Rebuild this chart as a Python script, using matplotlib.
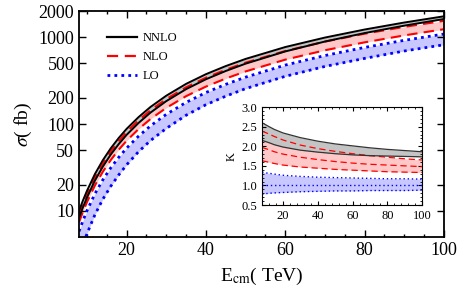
# cross section vs collider energy, with K-factor inset

import matplotlib.pyplot as plt
from matplotlib.ticker import MultipleLocator, FixedLocator, NullLocator

plt.rcParams['font.family'] = ['Liberation Serif', 'DejaVu Serif']
plt.rcParams['mathtext.fontset'] = 'stix'

# energies (TeV) for the main panel
ecm = [8, 9, 10, 12, 14, 16, 18, 20, 23, 26, 30, 35, 40, 45, 50, 60, 70, 80, 90, 100]

# main panel, sigma in fb (upper / lower edges of scale bands)
nnlo_up = [10.0, 13.2, 17.0, 26.5, 38.3, 52.5, 69, 88, 120, 157, 212, 290, 375, 465, 562,
           770, 990, 1225, 1475, 1740]
nnlo_lo = [8.30, 11.0, 14.2, 22.3, 32.3, 44.5, 58.7, 75.1, 102.8, 135.2, 183.6, 252.3, 327.8,
           408.3, 495.7, 685.3, 891, 1114.8, 1357, 1618]
nlo_up = [9.15, 12.1, 15.6, 24.4, 35.2, 48.3, 63.5, 81.0, 110.2, 143.8, 193.8, 264.5, 341.3,
          422.2, 508.6, 693, 889, 1096, 1314, 1543]
nlo_lo = [7.40, 9.77, 12.6, 19.6, 28.2, 38.5, 50.5, 64.2, 87.4, 114.0, 153.5, 209.4, 270,
          334.3, 403.5, 551.3, 706.9, 872.2, 1048.7, 1235.4]
lo_up = [5.80, 7.72, 10.03, 15.7, 22.75, 31.3, 41.3, 52.8, 72.4, 95.1, 129.3, 177.5, 230.6,
         286.4, 346.8, 477.4, 614.8, 762, 920, 1087.5]
lo_lo = [3.0, 4.09, 5.44, 9.01, 13.6, 19.2, 25.9, 33.9, 48.0, 64.4, 89.0, 126.2, 166.9,
         209.3, 255.7, 354.2, 460.4, 569.6, 693.3, 817.8]

# inset, K factors relative to central LO
ecm_k = [8, 10, 12, 15, 20, 30, 40, 50, 60, 70, 80, 90, 100]
k_nnlo_up = [2.60, 2.55, 2.50, 2.43, 2.34, 2.22, 2.13, 2.06, 2.01, 1.96, 1.92, 1.89, 1.86]
k_nnlo_lo = [2.15, 2.12, 2.09, 2.04, 1.98, 1.90, 1.85, 1.81, 1.78, 1.76, 1.75, 1.74, 1.73]
k_nlo_up = [2.38, 2.35, 2.31, 2.25, 2.16, 2.03, 1.94, 1.87, 1.81, 1.76, 1.72, 1.68, 1.65]
k_nlo_c = [1.97, 1.94, 1.91, 1.86, 1.80, 1.72, 1.66, 1.61, 1.57, 1.54, 1.52, 1.50, 1.48]
k_nlo_lo = [1.63, 1.61, 1.59, 1.56, 1.52, 1.47, 1.44, 1.41, 1.39, 1.37, 1.35, 1.34, 1.33]
k_lo_up = [1.34, 1.32, 1.31, 1.29, 1.26, 1.23, 1.21, 1.20, 1.19, 1.18, 1.17, 1.17, 1.16]
k_lo_c = [1.0] * len(ecm_k)
k_lo_lo = [0.78, 0.79, 0.80, 0.81, 0.82, 0.84, 0.85, 0.86, 0.86, 0.87, 0.87, 0.87, 0.88]

grey = '#c4c4c4'
pink = '#ffc8c8'
lblue = '#c8c8ff'
dash = (0, (5, 3))
dot = (0, (1, 1.5))

fig = plt.figure(figsize=(4.74, 2.95), dpi=100)
ax = fig.add_axes([0.1667, 0.1966, 0.770, 0.766])

ax.fill_between(ecm, lo_lo, lo_up, color=lblue, lw=0)
ax.fill_between(ecm, nlo_lo, nlo_up, color=pink, lw=0)
ax.fill_between(ecm, nnlo_lo, nnlo_up, color=grey, lw=0)
ax.plot(ecm, lo_up, color='#0000ff', lw=2, ls=dot)
ax.plot(ecm, lo_lo, color='#0000ff', lw=2, ls=dot)
ax.plot(ecm, nlo_lo, color='#ff0000', lw=1.5, ls=dash)
ax.plot(ecm, nlo_up, color='#ff0000', lw=1.5, ls=dash)
ax.plot(ecm, nnlo_lo, color='black', lw=1.4)
ax.plot(ecm, nnlo_up, color='black', lw=1.4)

# legend handles
ax.plot([], [], color='black', lw=1.6, label='NNLO')
ax.plot([], [], color='#ff0000', lw=1.6, ls=dash, label='NLO')
ax.plot([], [], color='#0000ff', lw=2, ls=dot, label='LO')
ax.legend(loc='upper left', frameon=False, fontsize=9, handlelength=2.4,
          labelspacing=0.55, bbox_to_anchor=(0.045, 0.955), handletextpad=0.5)

ax.set_yscale('log')
ax.set_xlim(8, 100)
ax.set_ylim(5, 2000)
ax.yaxis.set_major_locator(FixedLocator([10, 20, 50, 100, 200, 500, 1000, 2000]))
ax.yaxis.set_minor_locator(NullLocator())
ax.set_yticklabels(['10', '20', '50', '100', '200', '500', '1000', '2000'])
ax.xaxis.set_major_locator(MultipleLocator(20))
ax.xaxis.set_minor_locator(MultipleLocator(5))
ax.tick_params(which='both', direction='in', top=True, right=True, labelsize=13)
ax.tick_params(which='major', length=5, width=1)
ax.tick_params(which='minor', length=2.5, width=1)
for s in ax.spines.values():
    s.set_linewidth(1.3)
ax.set_xlabel(r'E$_{\rm cm}$( TeV)', fontsize=14, labelpad=5)
ax.set_ylabel(r'$\sigma$( fb)', fontsize=14, labelpad=3)

# inset with K factors
ins = fig.add_axes([0.553, 0.305, 0.3376, 0.332])
ins.fill_between(ecm_k, k_lo_lo, k_lo_up, color=lblue, lw=0)
ins.fill_between(ecm_k, k_nlo_lo, k_nlo_up, color=pink, lw=0)
ins.fill_between(ecm_k, k_nnlo_lo, k_nnlo_up, color=grey, lw=0)
for k in (k_lo_up, k_lo_c, k_lo_lo):
    ins.plot(ecm_k, k, color='#0000ff', lw=1, ls=(0, (1, 2)))
for k in (k_nlo_up, k_nlo_c, k_nlo_lo):
    ins.plot(ecm_k, k, color='#ff0000', lw=0.9, ls=(0, (5, 3)))
for k in (k_nnlo_up, k_nnlo_lo):
    ins.plot(ecm_k, k, color='#333333', lw=0.9)
ins.set_xlim(8, 100)
ins.set_ylim(0.5, 3.0)
ins.xaxis.set_major_locator(MultipleLocator(20))
ins.xaxis.set_minor_locator(MultipleLocator(4))
ins.yaxis.set_major_locator(MultipleLocator(0.5))
ins.yaxis.set_minor_locator(MultipleLocator(0.1))
ins.tick_params(which='both', direction='in', top=True, right=True, labelsize=9)
ins.tick_params(which='major', length=3, width=0.8)
ins.tick_params(which='minor', length=1.5, width=0.6)
ins.set_ylabel('K', fontsize=9, labelpad=3)

fig.savefig('out.png', dpi=100)
